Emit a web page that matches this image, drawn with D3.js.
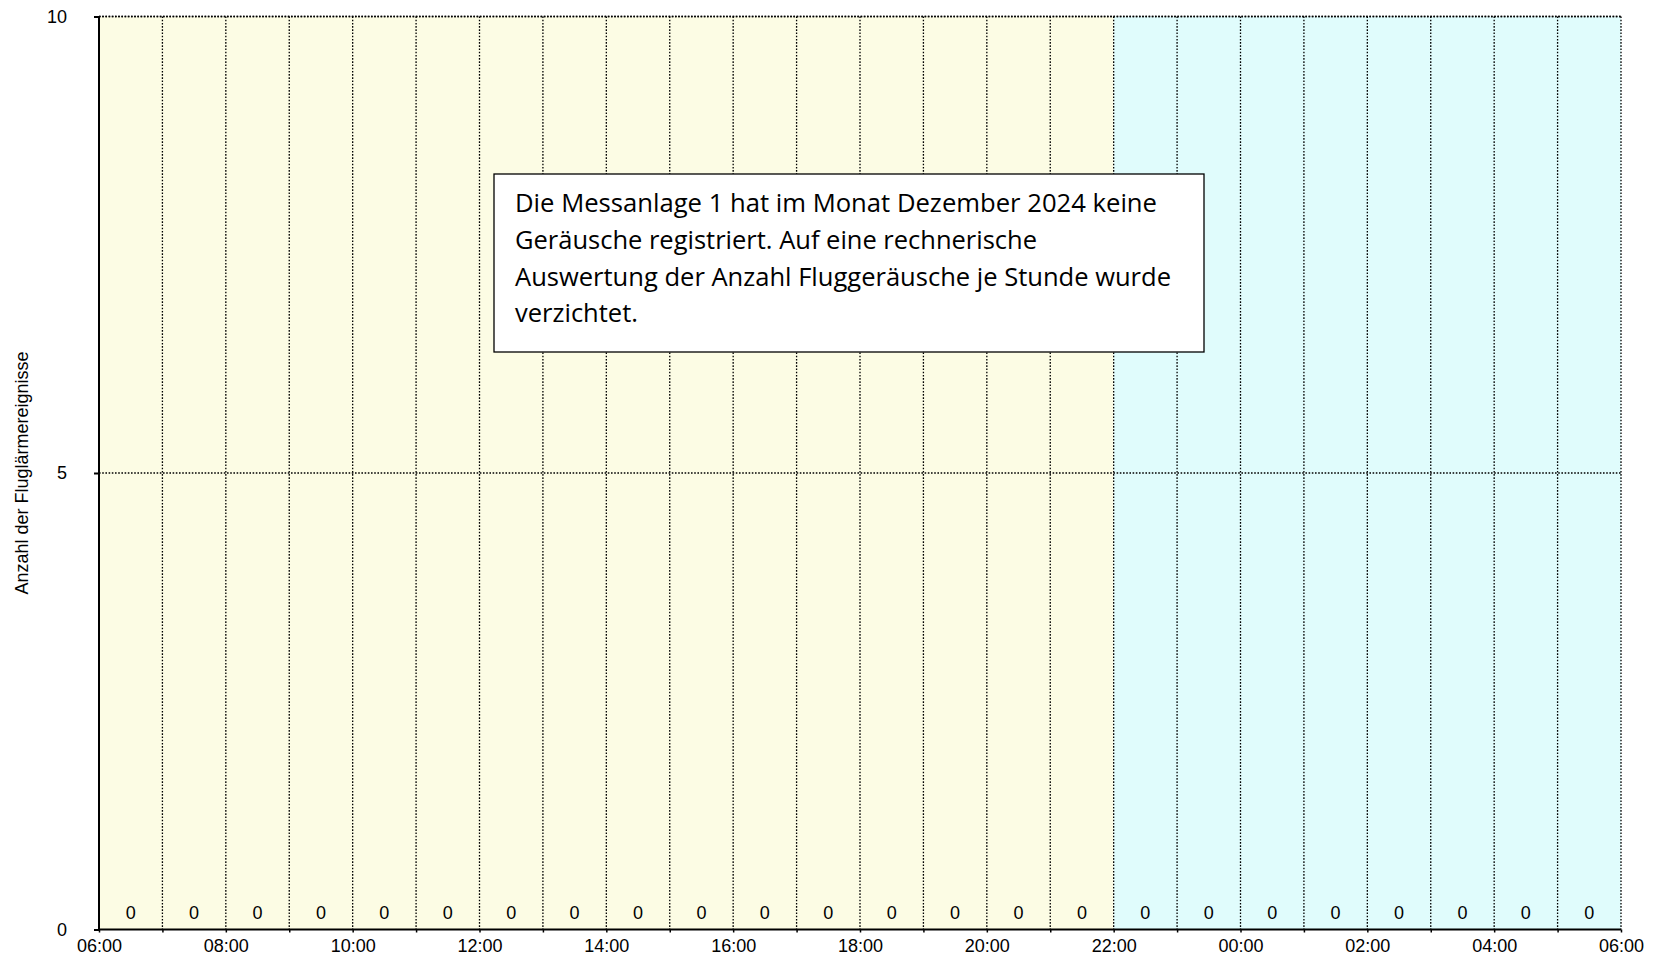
<!DOCTYPE html>
<html>
<head>
<meta charset="utf-8">
<script src="https://cdn.jsdelivr.net/npm/d3@7"></script>
<style>
  html, body { margin: 0; padding: 0; background: #fff; }
  svg { display: block; }
</style>
</head>
<body>
<svg id="chart" width="1657" height="956"></svg>
<script>
// ---- data ----
const hours = ["06","07","08","09","10","11","12","13","14","15","16","17",
               "18","19","20","21","22","23","00","01","02","03","04","05"];
const counts = [0,0,0,0,0,0,0,0,0,0,0,0,0,0,0,0,0,0,0,0,0,0,0,0];
const xTickLabels = ["06:00","08:00","10:00","12:00","14:00","16:00","18:00",
                     "20:00","22:00","00:00","02:00","04:00","06:00"];
const yTicks = [0, 5, 10];
const periods = [
  { name: "Tag",   from: 0,  to: 16 },
  { name: "Nacht", from: 16, to: 24 }
];
const yTitle = "Anzahl der Fluglärmereignisse";
const noteLines = [
  "Die Messanlage 1 hat im Monat Dezember 2024 keine",
  "Geräusche registriert. Auf eine rechnerische",
  "Auswertung der Anzahl Fluggeräusche je Stunde wurde",
  "verzichtet."
];

// ---- layout ----
const svg = d3.select("#chart");
const L = 99, R = 1621, T = 16.5, B = 929.5;
const x = d3.scaleLinear().domain([0, 24]).range([L, R]);
const y = d3.scaleLinear().domain([0, 10]).range([B, T]);
const band = d3.scaleBand().domain(d3.range(hours.length)).range([L, R]);
const font = "'Liberation Sans', Arial, sans-serif";
const fsAxis = 18;

// background periods
svg.append("g").selectAll("rect").data(periods).join("rect")
  .attr("x", d => x(d.from)).attr("y", T)
  .attr("width", d => x(d.to) - x(d.from)).attr("height", B - T)
  .attr("fill", d => d.name === "Tag" ? "#FCFCE4" : "#E0FCFC");

// grid lines (dotted)
const dash = "1.6,1.6";
svg.append("g").selectAll("line").data(d3.range(1, 25)).join("line")
  .attr("x1", d => x(d) ).attr("x2", d => x(d))
  .attr("y1", T).attr("y2", B)
  .attr("stroke", "#000").attr("stroke-width", 1.3).attr("stroke-dasharray", dash);
svg.append("g").selectAll("line").data(yTicks.filter(v => v > 0)).join("line")
  .attr("x1", L).attr("x2", R)
  .attr("y1", d => y(d)).attr("y2", d => y(d))
  .attr("stroke", "#000").attr("stroke-width", 1.3).attr("stroke-dasharray", dash);

// bars (all zero here)
svg.append("g").selectAll("rect").data(counts).join("rect")
  .attr("x", (d, i) => band(i) + band.bandwidth() * 0.1)
  .attr("width", band.bandwidth() * 0.8)
  .attr("y", d => y(d)).attr("height", d => B - y(d))
  .attr("fill", "#4472C4");

// value labels
svg.append("g").selectAll("text").data(counts).join("text")
  .attr("x", (d, i) => band(i) + band.bandwidth() / 2)
  .attr("y", d => y(d) - 10.5)
  .attr("text-anchor", "middle")
  .attr("font-family", font).attr("font-size", fsAxis).attr("fill", "#000")
  .text(d => d);

// y axis
const yAxis = svg.append("g").attr("transform", `translate(${L},0)`)
  .call(d3.axisLeft(y).tickValues(yTicks).tickSize(5).tickPadding(27).tickFormat(d3.format("d")));
yAxis.select(".domain").attr("stroke", "#000").attr("stroke-width", 2)
  .attr("d", `M0,${T}V${B}`);
yAxis.selectAll(".tick line").attr("stroke", "#000").attr("stroke-width", 2);
yAxis.selectAll(".tick text").attr("font-family", font).attr("font-size", fsAxis).attr("fill", "#000");

// x axis
const xAxis = svg.append("g").attr("transform", `translate(0,${B})`)
  .call(d3.axisBottom(x).tickValues(d3.range(0, 25)).tickSize(3).tickPadding(7)
    .tickFormat(d => d % 2 === 0 ? xTickLabels[d / 2] : ""));
xAxis.select(".domain").attr("stroke", "#000").attr("stroke-width", 2)
  .attr("d", `M${L},0H${R}`);
xAxis.selectAll(".tick line").attr("stroke", "#000").attr("stroke-width", 1.5);
xAxis.selectAll(".tick text").attr("font-family", font).attr("font-size", fsAxis).attr("fill", "#000");

// top dotted border
svg.append("line").attr("x1", L).attr("x2", R).attr("y1", T).attr("y2", T)
  .attr("stroke", "#000").attr("stroke-width", 1.3).attr("stroke-dasharray", dash);

// y title
svg.append("text")
  .attr("transform", `translate(28,${(T + B) / 2}) rotate(-90)`)
  .attr("text-anchor", "middle")
  .attr("font-family", font).attr("font-size", 18).attr("fill", "#000")
  .text(yTitle);

// note box
const bx = 494, by = 174, bw = 710, bh = 178;
svg.append("rect").attr("x", bx).attr("y", by).attr("width", bw).attr("height", bh)
  .attr("fill", "#fff").attr("stroke", "#000").attr("stroke-width", 1.3);
const lineWidths = [642, 522, 656, 123];
svg.append("g").selectAll("text").data(noteLines).join("text")
  .attr("x", 515).attr("y", (d, i) => 212 + i * 36.8)
  .attr("font-family", "'Open Sans', sans-serif").attr("font-size", 25).attr("fill", "#000")
  .attr("textLength", (d, i) => lineWidths[i]).attr("lengthAdjust", "spacingAndGlyphs")
  .text(d => d);
</script>
</body>
</html>
